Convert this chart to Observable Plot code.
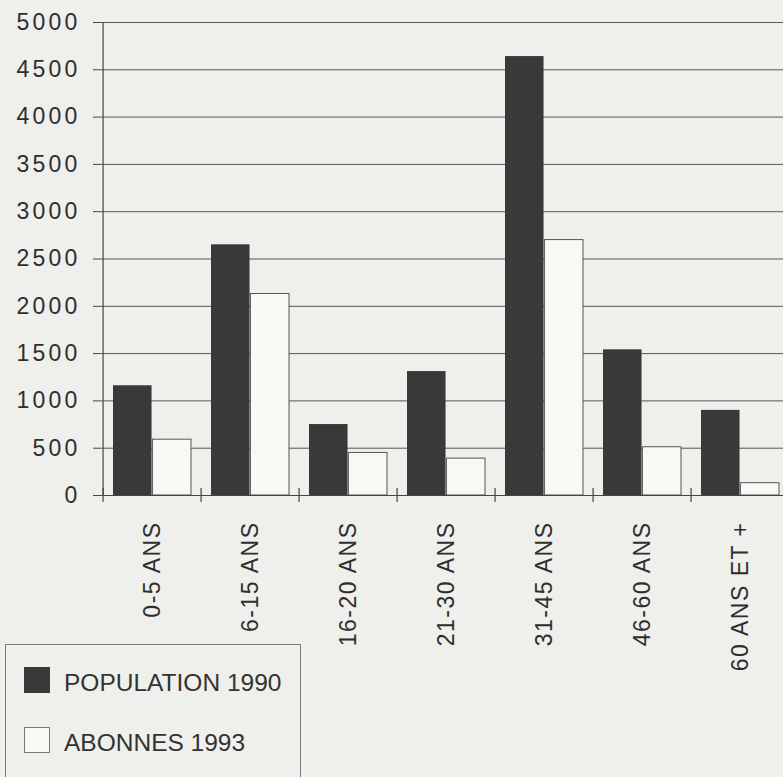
<!DOCTYPE html>
<html>
<head>
<meta charset="utf-8">
<script src="https://cdn.jsdelivr.net/npm/d3@7"></script>
<script src="https://cdn.jsdelivr.net/npm/@observablehq/plot@0.6"></script>
<style>
  html, body { margin: 0; padding: 0; background: #efefeb; overflow: hidden; }
  #wrap { position: relative; width: 783px; height: 777px; overflow: hidden; background: #efefeb; }
  #chart svg { display: block; max-width: none !important; width: 792px !important; height: 777px !important; }
  g[aria-label="y-axis tick label"] text { letter-spacing: 3.2px; }
  g[aria-label="x-axis tick label"] text { letter-spacing: 1.5px; }
  #legend { position: absolute; left: 5px; top: 644px; width: 296px; height: 160px;
            border: 1px solid #7a7a7a; box-sizing: border-box;
            font-family: "Liberation Sans", Arial, sans-serif; font-size: 24.5px; color: #333; }
  .sw { position: absolute; left: 18px; width: 26px; height: 26px; box-sizing: border-box; }
  .lt { position: absolute; left: 58px; line-height: 1; white-space: nowrap; }
</style>
</head>
<body>
<div id="wrap">
  <div id="chart"></div>
  <div id="legend"></div>
</div>
<script>
const categories = ["0-5 ANS", "6-15 ANS", "16-20 ANS", "21-30 ANS", "31-45 ANS", "46-60 ANS", "60 ANS ET +"];
const population1990 = [1160, 2650, 750, 1310, 4640, 1540, 900];
const abonnes1993 = [590, 2130, 450, 390, 2700, 510, 130];
const seriesNames = ["POPULATION 1990", "ABONNES 1993"];
const yTicks = [0, 500, 1000, 1500, 2000, 2500, 3000, 3500, 4000, 4500, 5000];

const popRows = categories.map((c, i) => ({cat: c, value: population1990[i]}));
const aboRows = categories.map((c, i) => ({cat: c, value: abonnes1993[i]}));

const W = 792, marginLeft = 100, marginRight = 0;
const bw = (W - marginLeft - marginRight) / categories.length;
const ink = "#3a3838";
const grid = "#555";

const chart = Plot.plot({
  width: W,
  height: 777,
  marginLeft,
  marginRight,
  marginTop: 22,
  marginBottom: 282,
  style: {fontFamily: "'Liberation Sans', Arial, sans-serif", fontSize: "23px", color: "#2e2e2e", background: "transparent", maxWidth: "none"},
  x: {domain: categories, padding: 0, label: null},
  y: {domain: [0, 5000], label: null},
  marks: [
    Plot.gridY(yTicks, {stroke: grid, strokeOpacity: 1, strokeWidth: 1}),
    Plot.barY(popRows, {x: "cat", y: "value", fill: ink, insetLeft: 10, insetRight: bw - 49.4}),
    Plot.barY(aboRows, {x: "cat", y: "value", fill: "#f8f8f5", stroke: "#555", strokeWidth: 1, insetLeft: 49.4, insetRight: 10}),
    Plot.ruleY([0], {stroke: "#444", strokeWidth: 1.2}),
    Plot.ruleX([categories[0]], {x: d => d, dx: -bw / 2, y1: 0, y2: 5000, stroke: "#444", strokeWidth: 1.2}),
    Plot.ruleX(categories, {x: d => d, dx: -bw / 2, y1: 0, y2: 0, insetTop: -7, insetBottom: -7, stroke: "#444", strokeWidth: 1.2}),
    Plot.axisY({ticks: yTicks, tickSize: 7, tickPadding: 13, tickFormat: d => String(d), fontSize: 23, stroke: "#444"}),
    Plot.axisX({tickSize: 0, tickRotate: -90, tickPadding: 26, fontSize: 23, label: null})
  ]
});
document.getElementById("chart").appendChild(chart);

const legend = document.getElementById("legend");
const items = [
  {name: seriesNames[0], fill: ink, border: "none", top: 22},
  {name: seriesNames[1], fill: "#f8f8f5", border: "1px solid #777", top: 82}
];
items.forEach(it => {
  const sw = document.createElement("div");
  sw.className = "sw";
  sw.style.top = it.top + "px";
  sw.style.background = it.fill;
  sw.style.border = it.border;
  legend.appendChild(sw);
  const t = document.createElement("div");
  t.className = "lt";
  t.style.top = (it.top + 4) + "px";
  t.textContent = it.name;
  legend.appendChild(t);
});
</script>
</body>
</html>
